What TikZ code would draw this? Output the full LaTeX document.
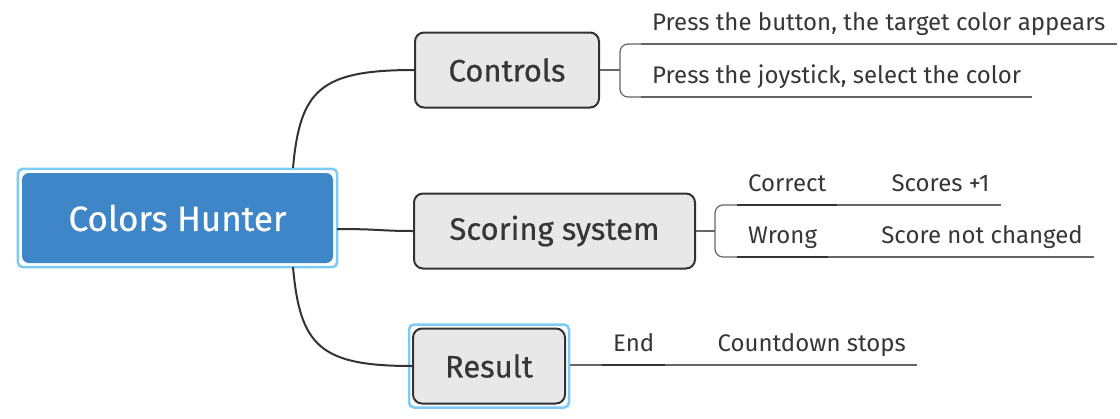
\documentclass[tikz,border=0pt]{standalone}
\usepackage{fontspec}
\setmainfont{Fira Sans}
\newfontfamily\medfont[FakeBold=0.6]{Fira Sans}
\usepackage{xcolor}
\usepackage{tikz}
\usetikzlibrary{positioning,fit}

\definecolor{rootblue}{HTML}{3F86C9}
\definecolor{haloblue}{HTML}{7DCBF4}
\definecolor{topicgray}{HTML}{E8E8E8}
\definecolor{edgegray}{HTML}{333333}
\definecolor{textgray}{HTML}{363636}
\definecolor{linegray}{HTML}{666666}

\begin{document}
\begin{tikzpicture}[x=1pt, y=-1pt,
  root/.style={rounded corners=7pt, fill=rootblue, text=white, minimum width=311pt,
    minimum height=90pt, font=\medfont\fontsize{35}{40}\selectfont},
  halo/.style={draw=haloblue, line width=2.5pt, rounded corners=5pt, inner sep=4pt},
  topic/.style={draw=edgegray, fill=topicgray, line width=2pt, rounded corners=9pt,
    minimum height=75pt, text=textgray, font=\medfont\fontsize{31}{36}\selectfont},
  leaf/.style={anchor=south west, inner xsep=11pt, inner ysep=8pt, text height=17pt,
    text depth=5pt, text=textgray, font=\fontsize{24}{28}\selectfont},
  branch/.style={draw=edgegray, line width=2pt},
  fork/.style={draw=linegray, line width=1.2pt},
  under/.style={draw=edgegray, line width=1.8pt},
  subunder/.style={draw=linegray, line width=1.2pt},
]
  \useasboundingbox (0,0) rectangle (1120,418);

  % central topic
  \node[root] (hunter) at (177.5,218) {Colors Hunter};
  \node[halo, fit=(hunter)] (hunterhalo) {};

  % main topics
  \node[topic, minimum width=184pt] (ctl) at (507,70) {Controls};
  \node[topic, minimum width=281pt] (score) at (554.5,231) {Scoring system};
  \node[topic, minimum width=152pt] (res) at (489,366) {Result};
  \node[halo, fit=(res), inner sep=3pt] (reshalo) {};

  \coordinate (topout) at (293,168);
  \coordinate (midout) at (337,229);
  \coordinate (botout) at (293,267);
  \draw[branch] (topout) .. controls (300,90) and (320,70) .. (ctl.west);
  \draw[branch] (midout) .. controls (380,229) and (380,231) .. (score.west);
  \draw[branch] (botout) .. controls (300,346) and (320,366) .. (res.west);

  % controls
  \node[leaf] (btn) at (641,44) {Press the button, the target color appears};
  \node[leaf] (joy) at (641,97) {Press the joystick, select the color};
  \coordinate (ctlfork) at (620,70);
  \draw[fork] (ctl.east) -- (ctlfork);
  \draw[fork, rounded corners=8pt] (ctlfork) |- (btn.south west);
  \draw[fork, rounded corners=8pt] (ctlfork) |- (joy.south west);
  \draw[subunder] (btn.south west) -- (btn.south east);
  \draw[subunder] (joy.south west) -- (joy.south east);

  % scoring
  \node[leaf] (right) at (737,205) {Correct};
  \node[leaf] (wrong) at (737,257) {Wrong};
  \node[leaf, right=43pt of right] (plusone) {Scores +1};
  \node[leaf, right=42pt of wrong] (same) {Score not changed};
  \coordinate (scorefork) at (715,231);
  \draw[fork] (score.east) -- (scorefork);
  \draw[fork, rounded corners=8pt] (scorefork) |- (right.south west);
  \draw[fork, rounded corners=8pt] (scorefork) |- (wrong.south west);
  \draw[under] (right.south west) -- (right.south east);
  \draw[under] (wrong.south west) -- (wrong.south east);
  \draw[subunder] (right.south east) -- (plusone.south west) -- (plusone.south east);
  \draw[subunder] (wrong.south east) -- (same.south west) -- (same.south east);

  % result
  \node[leaf] (stop) at (602,365) {End};
  \node[leaf, right=41pt of stop] (countdown) {Countdown stops};
  \draw[fork] (reshalo.east |- stop.south west) -- (stop.south west);
  \draw[under] (stop.south west) -- (stop.south east);
  \draw[subunder] (stop.south east) -- (countdown.south west) -- (countdown.south east);
\end{tikzpicture}
\end{document}
